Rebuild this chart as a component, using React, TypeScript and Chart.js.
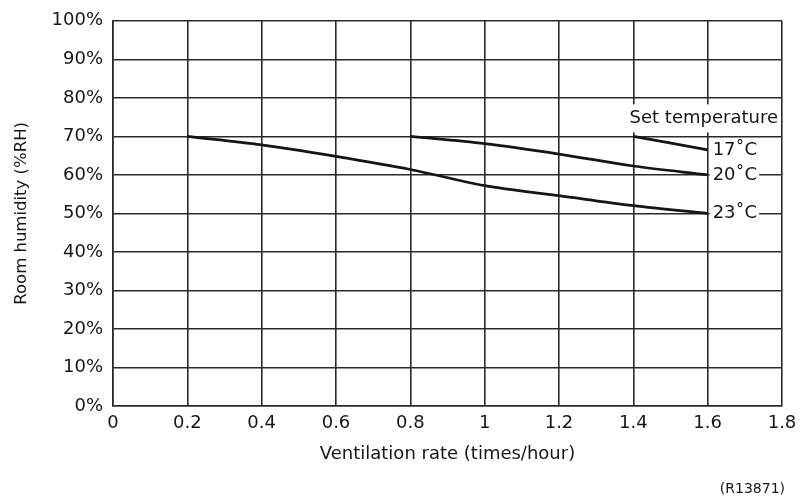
import React, { useEffect, useRef } from 'react';
import { Chart, registerables } from 'chart.js';

Chart.register(...registerables);

// ---- data ----
const xTickValues = [0, 0.2, 0.4, 0.6, 0.8, 1, 1.2, 1.4, 1.6, 1.8];
const yTickValues = [0, 10, 20, 30, 40, 50, 60, 70, 80, 90, 100];

const rate17 = [1.4, 1.6];
const humidity17 = [70, 66.5];

const rate20 = [0.8, 1.0, 1.2, 1.4, 1.6];
const humidity20 = [70, 68.1, 65.4, 62.3, 60];

const rate23 = [0.2, 0.4, 0.6, 0.8, 1.0, 1.2, 1.4, 1.6];
const humidity23 = [70, 67.8, 64.8, 61.4, 57.2, 54.6, 52.0, 50];

const seriesLabels = ['17˚C', '20˚C', '23˚C'];
const labelHeader = 'Set temperature';
const xTitle = 'Ventilation rate (times/hour)';
const yTitle = 'Room humidity (%RH)';
const figureCode = '(R13871)';

const FONT = '"DejaVu Sans", "Liberation Sans", Arial, sans-serif';
const INK = '#161616';
const GRID = '#2a2a2a';
const LINE = '#151515';

const toPoints = (xs: number[], ys: number[]) => xs.map((x, i) => ({ x, y: ys[i] }));

const labelPlugin = {
  id: 'seriesLabels',
  afterDatasetsDraw(chart: any) {
    const ctx = chart.ctx;
    const xs = chart.scales.x;
    const ys = chart.scales.y;
    ctx.save();
    ctx.font = `18px ${FONT}`;
    ctx.textBaseline = 'middle';
    ctx.textAlign = 'left';

    // header
    const right = xs.getPixelForValue(xTickValues[xTickValues.length - 1]) - 4;
    const hy = ys.getPixelForValue(70) - 18;
    const hw = ctx.measureText(labelHeader).width;
    ctx.fillStyle = '#fff';
    ctx.fillRect(right - hw - 3, hy - 14, hw + 5, 28);
    ctx.fillStyle = INK;
    ctx.fillText(labelHeader, right - hw, hy);

    // series labels at end of each line
    chart.data.datasets.forEach((ds: any) => {
      const last = ds.data[ds.data.length - 1];
      const px = xs.getPixelForValue(last.x) + 5;
      const py = ys.getPixelForValue(last.y);
      const w = ctx.measureText(ds.label).width;
      ctx.fillStyle = '#fff';
      ctx.fillRect(px - 3, py - 10, w + 5, 20);
      ctx.fillStyle = INK;
      ctx.fillText(ds.label, px, py);
    });

    // figure code
    ctx.font = `14px ${FONT}`;
    ctx.textAlign = 'right';
    ctx.fillStyle = INK;
    ctx.fillText(figureCode, chart.width - 20, chart.height - 15);
    ctx.restore();
  },
};

export default function App() {
  const canvasRef = useRef<HTMLCanvasElement | null>(null);

  useEffect(() => {
    document.body.style.margin = '0';
    const canvas = canvasRef.current;
    if (!canvas) return;
    const lineStyle = {
      borderColor: LINE,
      borderWidth: 2.7,
      pointRadius: 0,
      pointHoverRadius: 0,
      fill: false,
      cubicInterpolationMode: 'monotone' as const,
    };
    const chart = new Chart(canvas, {
      type: 'line',
      data: {
        datasets: [
          { label: seriesLabels[0], data: toPoints(rate17, humidity17), ...lineStyle },
          { label: seriesLabels[1], data: toPoints(rate20, humidity20), ...lineStyle },
          { label: seriesLabels[2], data: toPoints(rate23, humidity23), ...lineStyle },
        ],
      },
      options: {
        animation: false,
        responsive: false,
        devicePixelRatio: 1,
        layout: { padding: { top: 20, right: 23, left: 0, bottom: 0 } },
        plugins: {
          legend: { display: false },
          tooltip: { enabled: false },
        },
        scales: {
          x: {
            type: 'linear',
            min: 0,
            max: 1.8,
            afterBuildTicks: (scale: any) => {
              scale.ticks = xTickValues.map((v) => ({ value: v }));
            },
            afterFit: (scale: any) => {
              scale.height = 98;
            },
            ticks: {
              font: { family: FONT, size: 18 },
              color: INK,
              padding: 7,
              maxRotation: 0,
              autoSkip: false,
              callback: (v: any) => String(Number(Number(v).toFixed(1))),
            },
            grid: { color: GRID, lineWidth: 1.6, drawTicks: false },
            border: { display: true, color: GRID, width: 1.6 },
            title: {
              display: true,
              text: xTitle,
              color: INK,
              font: { family: FONT, size: 18 },
              padding: { top: 0, bottom: 39 },
            },
          },
          y: {
            type: 'linear',
            min: 0,
            max: 100,
            afterBuildTicks: (scale: any) => {
              scale.ticks = yTickValues.map((v) => ({ value: v }));
            },
            afterFit: (scale: any) => {
              scale.width = 113;
            },
            ticks: {
              font: { family: FONT, size: 18 },
              color: INK,
              padding: 10,
              autoSkip: false,
              callback: (v: any) => `${v}%`,
            },
            grid: { color: GRID, lineWidth: 1.6, drawTicks: false },
            border: { display: true, color: GRID, width: 1.6 },
            title: {
              display: true,
              text: yTitle,
              color: INK,
              font: { family: FONT, size: 16.5 },
              padding: { top: 12, bottom: 0 },
            },
          },
        },
      },
      plugins: [labelPlugin],
    });
    return () => chart.destroy();
  }, []);

  return (
    <div style={{ width: 805, height: 504, background: '#fff' }}>
      <canvas ref={canvasRef} width={805} height={504} style={{ display: 'block' }} />
    </div>
  );
}
